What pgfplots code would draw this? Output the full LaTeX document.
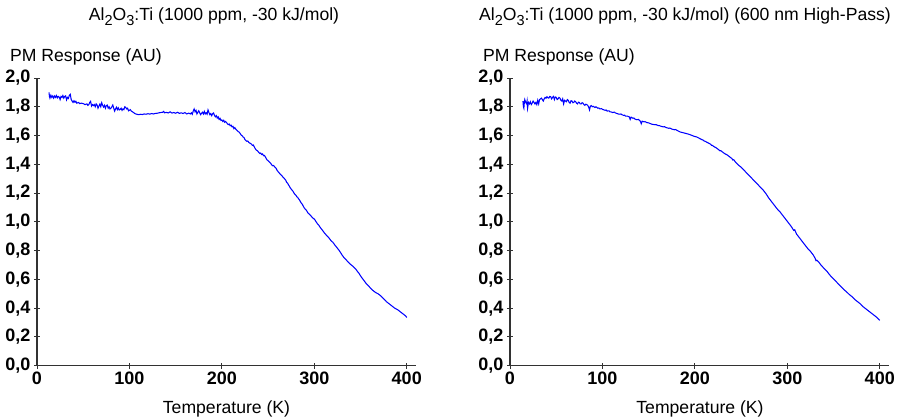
\documentclass[border=0pt]{standalone}
\usepackage{pgfplots}
\pgfplotsset{compat=1.18}
\usepackage{fontspec}
\setmainfont{Liberation Sans}
\definecolor{curve}{RGB}{0,0,255}
\definecolor{axcol}{RGB}{50,50,50}
\newcommand{\sub}[1]{\raisebox{-5pt}{\fontsize{14.5}{16}\selectfont #1}}
\pgfplotsset{
  pm/.style={
    scale only axis,
    width=379pt, height=287.7pt,
    xmin=0, xmax=410, ymin=0, ymax=2.0,
    axis x line=bottom, axis y line=left,
    axis line style={-, axcol, line width=1.1pt},
    xtick={0,100,200,300,400},
    ytick={0,0.2,0.4,0.6,0.8,1.0,1.2,1.4,1.6,1.8,2.0},
    tick align=center,
    major tick length=6pt,
    tick style={axcol, line width=0.9pt},
    tick label style={font=\fontsize{18}{20}\selectfont\bfseries},
    /pgf/number format/assume math mode=true,
    yticklabel style={/pgf/number format/.cd, use comma, fixed, precision=1, fixed zerofill},
    xticklabel style={/pgf/number format/.cd, fixed, precision=0},
    clip=false,
  }
}
\begin{document}
\begin{tikzpicture}[x=1pt,y=1pt,font=\fontsize{17.6}{20}\selectfont]
\useasboundingbox (0,0) rectangle (900,420);
\begin{axis}[pm, at={(37pt,54.3pt)}, anchor=origin]
\addplot[curve, line width=1.05pt] coordinates {
(13,1.90)(13.5,1.87)(14,1.86)(15,1.88)(16,1.865)(17,1.875)(18,1.86)(19,1.875)(20,1.865)(21,1.878)(22,1.862)(23,1.872)(24,1.868)(25,1.85)(26,1.872)(27,1.865)
(28,1.878)(29,1.86)(30,1.872)(31,1.876)(32,1.848)(33,1.865)(34,1.858)(35,1.88)(36,1.887)(37,1.85)(38,1.84)(39,1.83)(40,1.842)(41,1.832)(42,1.838)(43,1.825)
(45,1.83)(46,1.822)(48,1.825)(50,1.822)(52,1.815)(54,1.82)(55,1.81)(56,1.814)(57,1.83)(58,1.838)(59,1.805)(60,1.815)(61,1.808)
(62,1.815)(63,1.8)(64,1.82)(65,1.812)(66,1.79)(67,1.805)(68,1.818)(69,1.8)(70,1.828)(71,1.81)(72,1.798)(73,1.81)(74,1.79)(75,1.808)(76,1.812)(77,1.79)(78,1.8)(79,1.785)(80,1.79)
(81,1.8)(82,1.812)(83,1.79)(84,1.77)(85,1.785)(86,1.797)(87,1.78)(88,1.792)(89,1.778)(90,1.782)(91,1.79)(92,1.775)(93,1.785)(94,1.78)(95,1.8)(96,1.795)(97,1.785)(98,1.79)(99,1.772)
(101,1.78)(102,1.77)(104,1.762)(106,1.752)(108,1.748)(110,1.745)(112,1.748)(114,1.746)(116,1.75)(118,1.748)(120,1.752)(122,1.749)(124,1.753)(126,1.75)(128,1.754)(130,1.755)
(132,1.758)(134,1.76)(136,1.762)(137,1.768)(138,1.758)(140,1.761)(142,1.757)(144,1.765)(146,1.756)(148,1.76)(150,1.755)(152,1.762)(154,1.754)(156,1.758)(158,1.753)(160,1.76)(162,1.75)(164,1.756)
(166,1.75)(167,1.758)(168,1.748)(169,1.77)(170,1.785)(171,1.765)(172,1.775)(173,1.75)(174,1.762)(175,1.772)(176,1.758)(177,1.745)(178,1.755)(179,1.762)(180,1.75)(181,1.768)
(182,1.75)(183,1.758)(184,1.748)(185,1.778)(186,1.76)(187,1.745)(188,1.752)(189,1.738)(190,1.752)(191,1.757)(192,1.74)(193,1.73)(194,1.738)(195,1.722)(196,1.73)(197,1.712)(198,1.72)(199,1.705)
(200,1.708)(201,1.698)(202,1.706)(203,1.692)(204,1.698)(205,1.69)(206,1.682)(207,1.676)(208,1.68)(209,1.668)(210,1.672)(211,1.66)(212,1.664)(213,1.648)(214,1.655)(215,1.645)(216,1.638)(217,1.632)
(218,1.626)(219,1.622)(220,1.612)(221,1.602)(222,1.598)(223,1.59)(224,1.585)(225,1.572)(226,1.565)(227,1.56)(228,1.562)(229,1.553)(230,1.548)(231,1.545)(232,1.54)(233,1.532)(234,1.534)(235,1.522)
(236,1.51)(237,1.50)(238,1.496)(239,1.49)(240,1.482)(241,1.475)(242,1.478)(243,1.468)(244,1.472)(245,1.46)(246,1.462)(247,1.452)(248,1.44)(249,1.43)(250,1.425)(251,1.418)(252,1.412)(253,1.405)
(254,1.395)(255,1.39)(256,1.392)(257,1.382)(258,1.378)(259,1.368)(260,1.355)(261,1.348)(262,1.34)(263,1.332)(264,1.326)(265,1.32)(266,1.312)(267,1.305)(268,1.298)(269,1.29)(270,1.276)(271,1.27)
(272,1.258)(273,1.248)(274,1.236)(275,1.228)(276,1.22)(277,1.212)(278,1.2)(279,1.192)(280,1.186)(281,1.175)(282,1.17)(283,1.16)(284,1.152)(285,1.14)(286,1.13)(287,1.122)(288,1.11)
(289,1.098)(290,1.09)(291,1.084)(292,1.075)(293,1.062)(294,1.058)(295,1.05)(296,1.045)(297,1.036)(298,1.03)(299,1.022)(300,1.02)(302,1.0)(303,0.99)(305,0.975)(306,0.965)(308,0.948)(309,0.94)
(311,0.922)(312,0.915)(314,0.9)(315,0.895)(317,0.878)(318,0.87)(320,0.858)(321,0.85)(323,0.832)(324,0.825)(326,0.808)(327,0.8)(329,0.78)(330,0.77)(332,0.752)(333,0.745)(335,0.732)(336,0.725)
(338,0.712)(339,0.705)(341,0.695)(342,0.69)(344,0.676)(345,0.67)(347,0.652)(348,0.645)(350,0.625)(351,0.615)(353,0.598)(354,0.59)(356,0.572)(357,0.565)(359,0.552)(360,0.545)(362,0.532)
(363,0.525)(365,0.515)(366,0.51)(368,0.503)(369,0.5)(371,0.49)(372,0.485)(374,0.472)(375,0.465)(377,0.452)(378,0.445)(380,0.435)(381,0.43)(383,0.42)(384,0.415)(386,0.405)(387,0.40)
(389,0.393)(390,0.39)(392,0.38)(393,0.375)(395,0.365)(396,0.36)(398,0.35)(399,0.345)(400,0.335)
};
\end{axis}
\begin{axis}[pm, at={(510pt,54.3pt)}, anchor=origin]
\addplot[curve, line width=1.05pt] coordinates {
(14,1.84)(14.5,1.80)(15,1.79)(15.5,1.83)(16,1.85)(17,1.83)(18,1.82)(18.5,1.84)(19,1.79)(20,1.83)(21,1.82)(22,1.835)(23,1.815)(24,1.825)(25,1.84)
(26,1.83)(27,1.82)(28,1.83)(29,1.815)(30,1.845)(31,1.82)(32,1.85)(33,1.855)(34,1.86)(35,1.85)(36,1.84)(37,1.855)(38,1.865)(39,1.86)(40,1.87)(41,1.862)(42,1.86)
(43,1.872)(44,1.87)(45,1.855)(46,1.865)(47,1.872)(48,1.85)(49,1.868)(50,1.865)(51,1.85)(52,1.855)(53,1.865)(54,1.86)(55,1.845)(56,1.84)(57,1.855)(58,1.82)(59,1.845)(60,1.84)(61,1.835)
(62,1.85)(63,1.845)(64,1.83)(65,1.825)(66,1.842)(67,1.84)(68,1.828)(69,1.83)(70,1.84)(71,1.835)(72,1.825)(73,1.82)(74,1.832)(75,1.83)(76,1.82)(77,1.82)(78,1.828)(79,1.825)(80,1.815)(81,1.81)
(82,1.818)(83,1.815)(84,1.81)(85,1.80)(86,1.778)(87,1.805)(88,1.808)(89,1.80)(90,1.803)(92,1.795)(93,1.8)(95,1.79)(96,1.792)(97,1.785)(99,1.787)(100,1.782)(101,1.78)
(103,1.775)(104,1.778)(105,1.77)(107,1.772)(108,1.765)(109,1.765)(111,1.76)(113,1.763)(114,1.757)(115,1.755)(117,1.75)(119,1.748)(120,1.75)
(121,1.745)(123,1.74)(124,1.742)(125,1.735)(127,1.735)(128,1.732)(129,1.73)(130,1.712)(131,1.728)(133,1.72)(134,1.722)(135,1.715)
(137,1.71)(139,1.712)(140,1.705)(141,1.70)(142,1.682)(143,1.70)(145,1.695)(146,1.697)(148,1.69)(150,1.688)(151,1.685)(153,1.68)(154,1.678)
(157,1.675)(158,1.676)(160,1.67)(162,1.668)(163,1.665)(166,1.66)(167,1.662)(169,1.655)(172,1.65)(173,1.652)(175,1.645)(178,1.64)(179,1.642)(181,1.635)
(184,1.625)(187,1.62)(190,1.615)(193,1.61)(196,1.603)(199,1.595)(202,1.59)(205,1.58)(208,1.57)(209,1.568)(210,1.562)(211,1.56)(214,1.55)(217,1.54)(218,1.532)(219,1.532)(220,1.525)
(223,1.515)(226,1.50)(227,1.494)(228,1.495)(229,1.49)(232,1.475)(235,1.465)(238,1.45)(240,1.44)(241,1.43)(242,1.432)(244,1.415)(247,1.395)(250,1.38)(253,1.36)
(256,1.34)(259,1.32)(262,1.3)(265,1.28)(268,1.26)(271,1.24)(274,1.22)(277,1.195)(280,1.165)(283,1.14)(286,1.115)(289,1.09)
(292,1.07)(295,1.045)(298,1.02)(301,0.995)(304,0.97)(307,0.94)(308,0.945)(310,0.915)(313,0.89)(316,0.865)
(319,0.84)(322,0.815)(325,0.795)(328,0.77)(330,0.748)(331,0.73)(332,0.733)(334,0.72)(337,0.695)(340,0.675)(343,0.655)
(346,0.63)(349,0.61)(352,0.59)(355,0.57)(358,0.55)(361,0.53)(364,0.514)(367,0.495)(370,0.48)
(373,0.46)(376,0.445)(379,0.43)(382,0.41)(385,0.395)(388,0.38)(391,0.365)(394,0.35)(397,0.335)
(400,0.315)
};
\end{axis}
% titles and labels
\node[anchor=base] at (214,399.3) {Al\sub{2}O\sub{3}:Ti (1000 ppm, -30 kJ/mol)};
\node[anchor=base] at (685,399.3) {Al\sub{2}O\sub{3}:Ti (1000 ppm, -30 kJ/mol) (600 nm High-Pass)};
\node[anchor=base west, inner sep=0pt] at (10,358.3) {PM Response (AU)};
\node[anchor=base west, inner sep=0pt] at (483,358.3) {PM Response (AU)};
\node[anchor=base] at (226.5,6.7) {Temperature (K)};
\node[anchor=base] at (700,6.7) {Temperature (K)};
\end{tikzpicture}
\end{document}
